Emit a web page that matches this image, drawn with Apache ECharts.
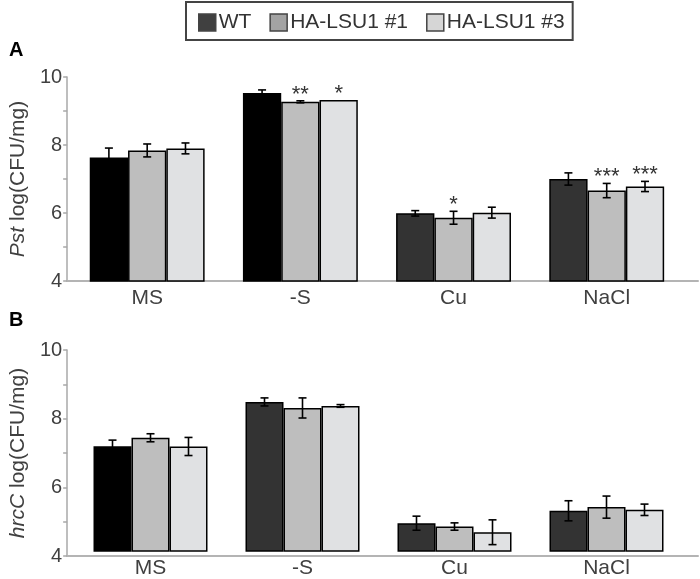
<!DOCTYPE html>
<html>
<head>
<meta charset="utf-8">
<script src="https://cdn.jsdelivr.net/npm/echarts@6/dist/echarts.min.js"></script>
<style>
html,body{margin:0;padding:0;background:#fff;}
#chart{width:700px;height:579px;}
</style>
</head>
<body>
<div id="chart"></div>
<script>
// ---- data ----
const categories = ['MS', '-S', 'Cu', 'NaCl'];
const seriesNames = ['WT', 'HA-LSU1 #1', 'HA-LSU1 #3'];
const yTickValues = [4, 5, 6, 7, 8, 9, 10];
const yTickLabels = ['4', '', '6', '', '8', '', '10'];

// Panel A: Pst log(CFU/mg)
const pstWT   = [7.63, 9.53, 5.99, 7.00];
const pstLSU1 = [7.84, 9.27, 5.86, 6.66];
const pstLSU3 = [7.90, 9.32, 6.01, 6.78];
const pstErrWT   = [0.28, 0.09, 0.08, 0.18];
const pstErrLSU1 = [0.19, 0.03, 0.19, 0.21];
const pstErrLSU3 = [0.16, 0.00, 0.16, 0.15];
const pstStarsWT   = ['', '', '', ''];
const pstStarsLSU1 = ['', '**', '*', '***'];
const pstStarsLSU3 = ['', '*', '', '***'];

// Panel B: hrcC log(CFU/mg)
const hrcWT   = [7.13, 8.45, 4.83, 5.20];
const hrcLSU1 = [7.38, 8.27, 4.73, 5.31];
const hrcLSU3 = [7.12, 8.33, 4.56, 5.23];
const hrcErrWT   = [0.18, 0.12, 0.21, 0.30];
const hrcErrLSU1 = [0.12, 0.30, 0.11, 0.33];
const hrcErrLSU3 = [0.27, 0.04, 0.37, 0.17];
const noStars = ['', '', '', ''];

// ---- styles ----
const FONT = 'Liberation Sans, Arial, Helvetica, sans-serif';
const GAP = 0.25;
const wtColorsA = ['#000000', '#000000', '#333333', '#333333'];
const wtColorsB = ['#000000', '#333333', '#333333', '#333333'];
const barColors = ['#333333', '#bebebe', '#e0e1e3'];
const legendColors = ['#404040', '#a3a3a3', '#d6d6d6'];

const panels = [
  {
    frame: {left: 63, right: 2, top: 77, height: 204},
    bars:  {left: 70.6, right: 16.7, top: 77, height: 204},
    name: '{i|Pst} log(CFU/mg)',
    values: [pstWT, pstLSU1, pstLSU3],
    errs: [pstErrWT, pstErrLSU1, pstErrLSU3],
    stars: [pstStarsWT, pstStarsLSU1, pstStarsLSU3],
    wtColors: wtColorsA
  },
  {
    frame: {left: 67, right: 2, top: 350, height: 206},
    bars:  {left: 74.5, right: 17.5, top: 350, height: 206},
    name: '{i|hrcC} log(CFU/mg)',
    values: [hrcWT, hrcLSU1, hrcLSU3],
    errs: [hrcErrWT, hrcErrLSU1, hrcErrLSU3],
    stars: [noStars, noStars, noStars],
    wtColors: wtColorsB
  }
];

const grid = [], xAxis = [], yAxis = [], series = [];

panels.forEach(function (p, pi) {
  const gFrame = grid.length;
  grid.push(p.frame);
  const gBars = grid.length;
  grid.push(p.bars);

  xAxis.push({
    gridIndex: gFrame, type: 'value', min: 0, max: 1,
    axisLine: {show: true, onZero: false, lineStyle: {color: '#b4b4b4', width: 2}},
    axisTick: {show: false}, axisLabel: {show: false}, splitLine: {show: false}
  });
  yAxis.push({
    gridIndex: gFrame, type: 'value', min: 4, max: 10, interval: 1,
    axisLine: {show: true, lineStyle: {color: '#a8a8a8', width: 1.5}},
    axisTick: {show: true, inside: false, length: 4, lineStyle: {color: '#a8a8a8', width: 1.5}},
    splitLine: {show: false},
    axisLabel: {
      margin: 5, fontSize: 20, color: '#404040', fontFamily: FONT,
      formatter: function (v) { const i = yTickValues.indexOf(v); return i >= 0 ? yTickLabels[i] : ''; }
    },
    name: p.name, nameLocation: 'middle', nameGap: 36,
    nameTextStyle: {
      fontSize: 21, color: '#404040', fontFamily: FONT,
      rich: {i: {fontSize: 21, color: '#404040', fontStyle: 'italic', fontFamily: FONT}}
    }
  });

  const xBars = xAxis.length;
  xAxis.push({
    gridIndex: gBars, type: 'category', data: categories,
    axisLine: {show: false}, axisTick: {show: false},
    axisLabel: {margin: 7, fontSize: 21, color: '#404040', fontFamily: FONT}
  });
  const yBars = yAxis.length;
  yAxis.push({
    gridIndex: gBars, type: 'value', min: 4, max: 10, interval: 1, show: false,
    splitLine: {show: false}
  });

  for (let k = 0; k < 3; k++) {
    series.push({
      type: 'bar', name: seriesNames[k],
      xAxisIndex: xBars, yAxisIndex: yBars,
      barGap: '0%', barCategoryGap: (GAP * 100) + '%',
      itemStyle: {color: barColors[k], borderColor: '#000', borderWidth: 1.5},
      data: p.values[k].map(function (v, i) {
        return k === 0 ? {value: v, itemStyle: {color: p.wtColors[i]}} : v;
      }),
      z: 2
    });
  }
  for (let k = 0; k < 3; k++) {
    const starsArr = p.stars[k];
    series.push({
      type: 'custom',
      xAxisIndex: xBars, yAxisIndex: yBars,
      clip: false, z: 5, silent: true,
      data: p.values[k].map(function (v, i) { return [i, v, p.errs[k][i]]; }),
      renderItem: function (params, api) {
        const cat = api.value(0), mean = api.value(1), err = api.value(2);
        const c = api.coord([cat, mean]);
        const band = api.size([1, 0])[0];
        const bw = band * (1 - GAP) / 3;
        const x = c[0] + (k - 1) * bw;
        const yHi = api.coord([cat, mean + err])[1];
        const yLo = api.coord([cat, mean - err])[1];
        const cap = 4;
        const ls = {stroke: '#000', lineWidth: 1.6};
        const children = [];
        if (err > 0) {
          children.push({type: 'line', shape: {x1: x, y1: yHi, x2: x, y2: yLo}, style: ls});
          children.push({type: 'line', shape: {x1: x - cap, y1: yHi, x2: x + cap, y2: yHi}, style: ls});
          children.push({type: 'line', shape: {x1: x - cap, y1: yLo, x2: x + cap, y2: yLo}, style: ls});
        }
        const s = starsArr[params.dataIndex];
        if (s) {
          children.push({
            type: 'text',
            style: {
              text: s, x: x, y: yHi - 6, align: 'center', verticalAlign: 'middle',
              fontSize: 22, fontFamily: FONT, fill: '#333'
            }
          });
        }
        return {type: 'group', children: children};
      }
    });
  }
});

const option = {
  backgroundColor: '#fff',
  animation: false,
  title: [
    {text: 'A', left: 4, top: 35, textStyle: {fontSize: 20, fontWeight: 'bold', color: '#000', fontFamily: FONT}},
    {text: 'B', left: 4, top: 305, textStyle: {fontSize: 20, fontWeight: 'bold', color: '#000', fontFamily: FONT}}
  ],
  legend: {
    left: 186, top: 2,
    padding: [10, 8, 7, 12],
    itemGap: 18, itemWidth: 17, itemHeight: 17,
    borderColor: '#444', borderWidth: 2,
    selectedMode: false,
    icon: 'rect',
    textStyle: {fontSize: 21, color: '#333', fontFamily: FONT, padding: [2, 0, 0, -2]},
    itemStyle: {borderColor: '#444', borderWidth: 1.5},
    data: seriesNames.map(function (n, k) { return {name: n, itemStyle: {color: legendColors[k]}}; })
  },
  grid: grid,
  xAxis: xAxis,
  yAxis: yAxis,
  series: series
};

const chart = echarts.init(document.getElementById('chart'), null, {renderer: 'canvas'});
chart.setOption(option);
</script>
</body>
</html>
